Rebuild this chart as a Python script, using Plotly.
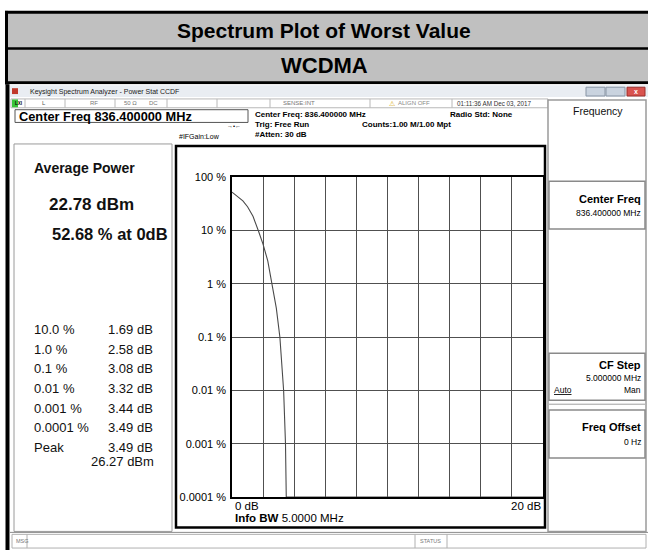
import plotly.graph_objects as go

# ---------------- data ----------------
ccdf_db = [0.0, 0.3, 0.7, 1.0, 1.35, 1.69, 2.0, 2.3, 2.58, 2.85, 3.08, 3.32, 3.44, 3.49, 3.49, 20.0]
ccdf_pct = [52.68, 44, 36, 28, 18.5, 10, 5.5, 2.7, 1.0, 0.35, 0.1, 0.01, 0.001, 0.0001, 0.0001, 0.0001]

y_tick_vals = [100, 10, 1, 0.1, 0.01, 0.001, 0.0001]
y_tick_text = ["100 %", "10 %", "1 %", "0.1 %", "0.01 %", "0.001 %", "0.0001 %"]

stat_labels = ["10.0 %", "1.0 %", "0.1 %", "0.01 %", "0.001 %", "0.0001 %", "Peak"]
stat_values = ["1.69 dB", "2.58 dB", "3.08 dB", "3.32 dB", "3.44 dB", "3.49 dB", "3.49 dB"]
peak_dbm = "26.27 dBm"
avg_power = "22.78 dBm"
avg_pct = "52.68 % at 0dB"

W, H = 648, 556
FONT = "Liberation Sans, Arial, sans-serif"


def X(px):
    return px / W


def Y(py):
    return 1 - py / H


shapes = []
annotations = []


def rect(x0, y0, x1, y1, fill="rgba(0,0,0,0)", line="rgba(0,0,0,0)", lw=0, layer="below"):
    shapes.append(dict(type="rect", xref="paper", yref="paper",
                       x0=X(x0), x1=X(x1), y0=Y(y1), y1=Y(y0),
                       fillcolor=fill, line=dict(color=line, width=lw), layer=layer))


def hline(x0, x1, y, color, lw=1, layer="below"):
    shapes.append(dict(type="line", xref="paper", yref="paper",
                       x0=X(x0), x1=X(x1), y0=Y(y), y1=Y(y),
                       line=dict(color=color, width=lw), layer=layer))


def vline(x, y0, y1, color, lw=1, layer="below"):
    shapes.append(dict(type="line", xref="paper", yref="paper",
                       x0=X(x), x1=X(x), y0=Y(y0), y1=Y(y1),
                       line=dict(color=color, width=lw), layer=layer))


def txt(x, y, s, size, bold=False, anchor="left", color="#000", family=FONT):
    if bold:
        s = "<b>" + s + "</b>"
    annotations.append(dict(xref="paper", yref="paper", x=X(x), y=Y(y), text=s,
                            showarrow=False, xanchor=anchor, yanchor="middle",
                            font=dict(size=size, color=color, family=family)))


# ---------- report title block ----------
rect(5, 5, 650, 80, fill="#c0c0c0")
hline(5, 650, 6.5, "#000", 3)
hline(5, 650, 43.5, "#000", 2.5)
hline(5, 650, 78.5, "#000", 3)
vline(6.5, 5, 80, "#000", 3)
txt(324, 25, "Spectrum Plot of Worst Value", 21, True, "center")
txt(324, 61, "WCDMA", 22, True, "center")

# ---------- instrument screenshot frame ----------
rect(9, 80, 650, 556, fill="#ffffff")
vline(7.5, 80, 556, "#000", 4)
# window title bar
rect(10, 81, 648, 93, fill="#e9edf2")
rect(12, 84, 18, 90, fill="#c0392b")
txt(28, 87.5, "Keysight Spectrum Analyzer - Power Stat CCDF", 7, color="#222")
rect(586, 83, 605, 92, fill="#c9d3df", line="#8895a5", lw=1)
rect(606, 83, 625, 92, fill="#c9d3df", line="#8895a5", lw=1)
rect(627, 83, 645, 92, fill="#d9534f", line="#9a2f2b", lw=1)
txt(636, 87.5, "x", 7, True, "center", "#fff")

# status row
rect(11, 95, 548, 104, fill="#ffffff", line="#b8b8b8", lw=1)
rect(12, 95.5, 18, 103.5, fill="#39c43a")
txt(13, 99.5, "LXI", 4.5, True, color="#000")
for sx in [25, 65, 115, 167, 217, 270, 370, 452]:
    vline(sx, 95, 104, "#b8b8b8", 1)
txt(40, 99.5, "L", 6, color="#555")
txt(88, 99.5, "RF", 6, color="#777")
txt(122, 99.5, "50 Ω", 6, color="#777")
txt(147, 99.5, "DC", 6, color="#777")
txt(281, 99.5, "SENSE:INT", 6, color="#777")
txt(387, 99.5, "⚠", 7, color="#d4a200")
txt(396, 99.5, "ALIGN OFF", 6, color="#888")
txt(455, 99.5, "01:11:36 AM Dec 03, 2017", 6.3, color="#333")

# header info
rect(15, 106, 248, 119, fill="#ffffff", line="#555", lw=1)
txt(17, 112.5, "Center Freq 836.400000 MHz", 12.8, True)
txt(253, 111, "Center Freq: 836.400000 MHz", 8, True)
txt(253, 121, "Trig: Free Run", 8, True)
txt(253, 131, "#Atten: 30 dB", 8, True)
txt(360, 121, "Counts:1.00 M/1.00 Mpt", 8, True)
txt(448, 111, "Radio Std: None", 8, True)
txt(177, 133, "#IFGain:Low", 7)
txt(234, 123, "→•←", 6, anchor="center")

# left results panel
rect(14, 141, 172, 537, fill="#ffffff", line="#9a9a9a", lw=1)
txt(32, 166, "Average Power", 14, True, color="#111")
txt(47, 203, avg_power, 17, True, color="#111")
txt(50, 233, avg_pct, 16.5, True, color="#111")
row_y0, row_dy = 331, 20
for i, (lab, val) in enumerate(zip(stat_labels, stat_values)):
    yy = row_y0 + i * row_dy
    txt(32, yy, lab, 13, color="#111")
    txt(155, yy, val, 13, anchor="right", color="#111")
txt(156, 466, peak_dbm, 13, anchor="right", color="#111")

# graph box
rect(176, 143, 545, 533, fill="#ffffff", line="#000", lw=2.5)

# right soft-key panel
rect(548, 96, 646, 537, fill="#ffffff", line="#9a9a9a", lw=1.5)
txt(598, 107, "Frequency", 10.5, anchor="center", color="#111")
rect(549, 179, 645, 228, fill="#ffffff", line="#8a8a8a", lw=1.5)
txt(643, 197, "Center Freq", 11, True, "right")
txt(643, 212, "836.400000 MHz", 8.5, anchor="right")
rect(549, 355, 645, 403, fill="#ffffff", line="#8a8a8a", lw=1.5)
hline(549, 645, 407, "#a0a0a0", 1)
txt(643, 367, "CF Step", 11, True, "right")
txt(643, 380, "5.000000 MHz", 8.5, anchor="right")
txt(552, 392, "<u>Auto</u>", 8.5)
txt(643, 392, "Man", 8.5, anchor="right")
rect(549, 413, 645, 462, fill="#ffffff", line="#8a8a8a", lw=1.5)
txt(643, 430, "Freq Offset", 11, True, "right")
txt(643, 446, "0 Hz", 8.5, anchor="right")

# bottom status bar
hline(10, 648, 538, "#8a8a8a", 1)
rect(12, 540, 646, 554, fill="#ffffff", line="#b0b0b0", lw=1)
vline(27, 540, 554, "#b0b0b0", 1)
txt(14, 547, "MSG", 5.5, color="#777")
vline(415, 540, 554, "#b0b0b0", 1)
vline(447, 540, 554, "#b0b0b0", 1)
txt(418, 546.5, "STATUS", 5.5, color="#777")

# ---------- the CCDF plot ----------
fig = go.Figure()
fig.add_trace(go.Scatter(x=ccdf_db, y=ccdf_pct, mode="lines",
                         line=dict(color="#4a4a4a", width=1.1), hoverinfo="skip"))

annotations.append(dict(xref="x", yref="paper", x=0, y=Y(511.5), text="0 dB", showarrow=False,
                        xanchor="left", yanchor="middle", xshift=1,
                        font=dict(size=11.5, family=FONT, color="#000")))
annotations.append(dict(xref="x", yref="paper", x=20, y=Y(511.5), text="20 dB", showarrow=False,
                        xanchor="right", yanchor="middle", xshift=0,
                        font=dict(size=11.5, family=FONT, color="#000")))
txt(233, 523.5, "<b>Info BW</b> 5.0000 MHz", 11.5)

fig.update_layout(
    width=W, height=H,
    margin=dict(l=0, r=0, t=0, b=0),
    paper_bgcolor="#ffffff",
    plot_bgcolor="#ffffff",
    showlegend=False,
    shapes=shapes,
    annotations=annotations,
    font=dict(family=FONT, color="#000"),
    xaxis=dict(domain=[X(232), X(543)], range=[0, 20], dtick=2, tick0=0,
               showgrid=True, gridcolor="#505050", gridwidth=1,
               showline=True, linecolor="#000", linewidth=1.5, mirror=True,
               showticklabels=False, ticks="", zeroline=False, fixedrange=True),
    yaxis=dict(domain=[Y(502), Y(175)], type="log", range=[-4, 2],
               tickvals=y_tick_vals, ticktext=y_tick_text,
               tickfont=dict(size=11, family=FONT, color="#000"),
               showgrid=True, gridcolor="#505050", gridwidth=1,
               showline=True, linecolor="#000", linewidth=1.5, mirror=True,
               ticks="", ticklabelstandoff=2, zeroline=False, fixedrange=True),
)

fig.write_html("out.html", config={"displayModeBar": False},
               post_script="document.body.style.margin='0';document.body.style.overflow='hidden';")
